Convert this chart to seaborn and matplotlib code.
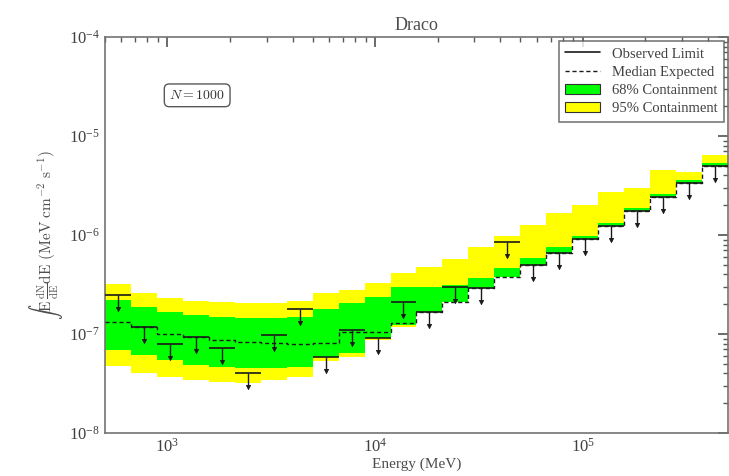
import numpy as np
import pandas as pd
import matplotlib
matplotlib.use("Agg")
import matplotlib.pyplot as plt
import seaborn as sns
from matplotlib.lines import Line2D
from matplotlib.patches import Patch

# Energy bin edges (MeV), 8 bins per decade from 500 MeV to 500 GeV
bin_edges = [500, 667, 889, 1186, 1581, 2109, 2812, 3749, 5000, 6668, 8891,
             11857, 15811, 21085, 28117, 37494, 50000, 66676, 88914, 118569,
             158114, 210848, 281171, 374947, 500000]

# Expected-limit bands (MeV cm^-2 s^-1)
band95_hi = [3.20e-7, 2.60e-7, 2.31e-7, 2.15e-7, 2.10e-7, 2.06e-7, 2.06e-7, 2.15e-7,
             2.60e-7, 2.78e-7, 3.28e-7, 4.13e-7, 4.75e-7, 5.73e-7, 7.57e-7, 9.77e-7,
             1.26e-6, 1.67e-6, 2.01e-6, 2.72e-6, 2.98e-6, 4.54e-6, 4.33e-6, 6.43e-6]
band68_hi = [2.21e-7, 1.87e-7, 1.67e-7, 1.56e-7, 1.49e-7, 1.45e-7, 1.45e-7, 1.49e-7,
             1.80e-7, 2.06e-7, 2.36e-7, 2.98e-7, 2.98e-7, 3.10e-7, 3.68e-7, 4.64e-7,
             5.86e-7, 7.57e-7, 9.77e-7, 1.32e-6, 1.87e-6, 2.60e-6, 3.59e-6, 5.33e-6]
median = [1.32e-7, 1.18e-7, 1.00e-7, 9.33e-8, 8.70e-8, 8.30e-8, 8.11e-8, 7.92e-8,
          8.11e-8, 1.04e-7, 1.04e-7, 1.30e-7, 1.67e-7, 2.10e-7, 2.92e-7, 3.77e-7,
          4.98e-7, 6.58e-7, 9.12e-7, 1.23e-6, 1.75e-6, 2.42e-6, 3.35e-6, 4.98e-6]
band68_lo = [6.89e-8, 6.14e-8, 5.46e-8, 4.86e-8, 4.64e-8, 4.54e-8, 4.54e-8, 4.64e-8,
             5.86e-8, 6.50e-8, 9.10e-8, 1.23e-7, 1.67e-7, 2.10e-7, 2.92e-7, 3.77e-7,
             4.98e-7, 6.58e-7, 9.12e-7, 1.23e-6, 1.75e-6, 2.42e-6, 3.35e-6, 4.98e-6]
band95_lo = [4.75e-8, 4.04e-8, 3.68e-8, 3.43e-8, 3.27e-8, 3.20e-8, 3.43e-8, 3.70e-8,
             5.30e-8, 5.90e-8, 8.70e-8, 1.18e-7, 1.67e-7, 2.10e-7, 2.92e-7, 3.77e-7,
             4.98e-7, 6.58e-7, 9.12e-7, 1.23e-6, 1.75e-6, 2.42e-6, 3.35e-6, 4.98e-6]
# Observed upper limits per bin
observed = [2.48e-7, 1.18e-7, 7.92e-8, 9.33e-8, 7.22e-8, 4.04e-8, 9.77e-8, 1.79e-7,
            5.86e-8, 1.10e-7, 9.10e-8, 2.10e-7, 1.67e-7, 2.98e-7, 2.92e-7, 8.50e-7,
            4.98e-7, 6.58e-7, 9.12e-7, 1.23e-6, 1.75e-6, 2.42e-6, 3.35e-6, 4.98e-6]

sns.set_theme(style="white")
plt.rcParams.update({
    "font.family": ["Liberation Serif", "DejaVu Serif"],
    "mathtext.fontset": "cm",
    "xtick.direction": "in",
    "ytick.direction": "in",
    "xtick.top": True,
    "ytick.right": True,
    "xtick.minor.visible": True,
    "ytick.minor.visible": True,
    "xtick.major.size": 7,
    "ytick.major.size": 7,
    "xtick.minor.size": 3.5,
    "ytick.minor.size": 3.5,
    "xtick.color": "0.35",
    "ytick.color": "0.35",
    "xtick.labelcolor": "0.25",
    "ytick.labelcolor": "0.25",
    "axes.edgecolor": "0.45",
    "axes.linewidth": 1.2,
})

edges = np.array(bin_edges, dtype=float)
def ext(a):
    a = list(a)
    return np.array(a + [a[-1]])

fig = plt.figure(figsize=(7.29, 4.76), dpi=100)
ax = fig.add_axes([0.144, 0.0903, 0.8546, 0.8317])

ax.fill_between(edges, ext(band95_lo), ext(band95_hi), step="post",
                color="#ffff00", linewidth=0, zorder=1)
ax.fill_between(edges, ext(band68_lo), ext(band68_hi), step="post",
                color="#00ff00", linewidth=0, zorder=2)

med_df = pd.DataFrame({"energy": edges, "flux": ext(median)})
sns.lineplot(data=med_df, x="energy", y="flux", drawstyle="steps-post",
             color="k", linestyle="--", linewidth=1.0, estimator=None,
             ax=ax, zorder=3, dashes=False)
ax.lines[-1].set_dashes([3, 2])

obs = np.array(observed)
centers = np.sqrt(edges[:-1] * edges[1:])
tips = obs * 0.72
ax.hlines(obs, edges[:-1], edges[1:], color="k", linewidth=1.2, zorder=4)
ax.vlines(centers, tips, obs, color="k", linewidth=1.0, zorder=4)
sns.scatterplot(x=centers, y=tips, marker="v", s=9, color="k",
                edgecolor="k", linewidth=0.6, ax=ax, zorder=5, legend=False)

ax.set_xscale("log")
ax.set_yscale("log")
ax.set_xlim(500, 5e5)
ax.set_ylim(1e-8, 1e-4)
ax.tick_params(labelsize=12)

ax.set_title("Draco", fontsize=13, color="0.3", pad=5)
ax.set_xlabel("Energy (MeV)", fontsize=11, color="0.3", labelpad=1)
ax.set_ylabel(r"$\int \mathrm{E}\,\frac{\mathrm{dN}}{\mathrm{dE}}\mathrm{dE}\ (\mathrm{MeV\ cm^{-2}\ s^{-1}})$",
              fontsize=11, color="0.3", labelpad=3)

ax.text(0.148, 0.853, r"$N = 1000$", transform=ax.transAxes, fontsize=10,
        ha="center", va="center", color="0.2",
        bbox=dict(boxstyle="round,pad=0.35", facecolor="white", edgecolor="0.35", linewidth=1.0))

handles = [
    Line2D([], [], color="k", linestyle="-", linewidth=1.2),
    Line2D([], [], color="k", linestyle="--", linewidth=1.0, dashes=[3, 2]),
    Patch(facecolor="#00ff00", edgecolor="0.2", linewidth=0.8),
    Patch(facecolor="#ffff00", edgecolor="0.2", linewidth=0.8),
]
labels = ["Observed Limit", "Median Expected", "68% Containment", "95% Containment"]
leg = ax.legend(handles, labels, loc="upper right", fontsize=10.5, fancybox=False,
                frameon=True, borderaxespad=0.25, handlelength=2.4,
                labelspacing=0.35, borderpad=0.45)
leg.get_frame().set_edgecolor("0.35")
leg.get_frame().set_linewidth(1.2)
for t in leg.get_texts():
    t.set_color("0.25")

fig.savefig("out.png", dpi=100)
